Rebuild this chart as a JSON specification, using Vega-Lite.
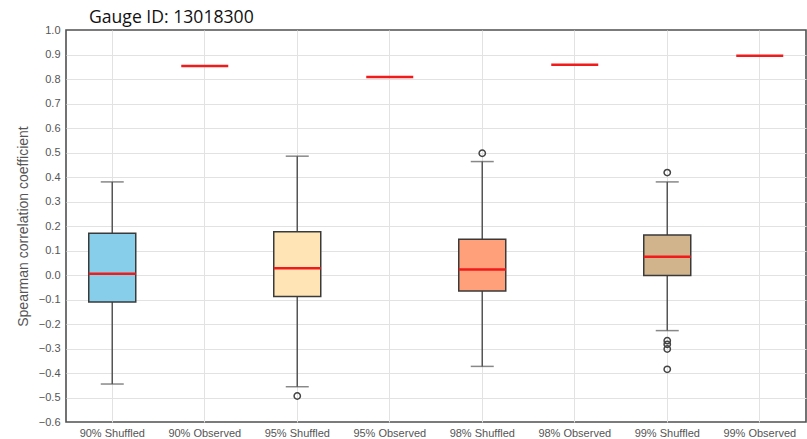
{
  "$schema": "https://vega.github.io/schema/vega-lite/v6.json",
  "autosize": {"type": "none"},
  "padding": {"left": 66, "top": 30, "right": 1, "bottom": 17},
  "width": 740,
  "height": 392,
  "background": "white",
  "title": {
    "text": "Gauge ID: 13018300",
    "anchor": "start",
    "frame": "group",
    "dx": 23,
    "dy": 17,
    "offset": 0,
    "baseline": "alphabetic",
    "font": "Open Sans",
    "fontSize": 17.6,
    "fontWeight": "normal",
    "color": "#111"
  },
  "config": {
    "view": {"stroke": "#505050", "strokeWidth": 1.6},
    "axis": {
      "labelFont": "Liberation Sans",
      "labelFontSize": 11,
      "labelColor": "#555",
      "titleFont": "Liberation Sans",
      "titleColor": "#555",
      "gridColor": "#e2e2e2",
      "gridWidth": 1,
      "domain": false,
      "ticks": false
    },
    "axisY": {
      "titleFontSize": 14,
      "titleFontWeight": "normal",
      "titlePadding": 8,
      "labelPadding": 6,
      "labelOverlap": false
    }
  },
  "datasets": {
    "stats": [
      {"cat": "90% Shuffled", "kind": "Shuffled", "min": -0.445, "q1": -0.11, "median": 0.005, "q3": 0.17, "max": 0.38},
      {"cat": "90% Observed", "kind": "Observed", "median": 0.853},
      {"cat": "95% Shuffled", "kind": "Shuffled", "min": -0.456, "q1": -0.088, "median": 0.028, "q3": 0.177, "max": 0.485},
      {"cat": "95% Observed", "kind": "Observed", "median": 0.808},
      {"cat": "98% Shuffled", "kind": "Shuffled", "min": -0.373, "q1": -0.065, "median": 0.022, "q3": 0.146, "max": 0.463},
      {"cat": "98% Observed", "kind": "Observed", "median": 0.858},
      {"cat": "99% Shuffled", "kind": "Shuffled", "min": -0.227, "q1": -0.002, "median": 0.074, "q3": 0.163, "max": 0.38},
      {"cat": "99% Observed", "kind": "Observed", "median": 0.895}
    ],
    "outliers": [
      {"cat": "95% Shuffled", "value": -0.494},
      {"cat": "98% Shuffled", "value": 0.497},
      {"cat": "99% Shuffled", "value": 0.418},
      {"cat": "99% Shuffled", "value": -0.268},
      {"cat": "99% Shuffled", "value": -0.283},
      {"cat": "99% Shuffled", "value": -0.302},
      {"cat": "99% Shuffled", "value": -0.385}
    ]
  },
  "data": {"name": "stats"},
  "encoding": {
    "x": {
      "field": "cat",
      "type": "nominal",
      "sort": null,
      "scale": {
        "domain": ["90% Shuffled", "90% Observed", "95% Shuffled", "95% Observed", "98% Shuffled", "98% Observed", "99% Shuffled", "99% Observed"],
        "paddingInner": 0,
        "paddingOuter": 0
      },
      "axis": {"title": null, "labelAngle": 0, "grid": true, "labelPadding": 5}
    }
  },
  "layer": [
    {
      "transform": [{"filter": "datum.kind === 'Shuffled'"}],
      "mark": {"type": "rule", "color": "#555", "strokeWidth": 1.5},
      "encoding": {
        "y": {
          "field": "min",
          "type": "quantitative",
          "title": "Spearman correlation coefficient",
          "scale": {"domain": [-0.6, 1.0], "nice": false, "zero": false},
          "axis": {
            "values": [-0.6, -0.5, -0.4, -0.3, -0.2, -0.1, 0.0, 0.1, 0.2, 0.3, 0.4, 0.5, 0.6, 0.7, 0.8, 0.9, 1.0],
            "format": ".1f",
            "gridOpacity": {"condition": {"test": "datum.value <= -0.59 || datum.value >= 0.99", "value": 0}, "value": 1}
          }
        },
        "y2": {"field": "max"}
      }
    },
    {
      "transform": [{"filter": "datum.kind === 'Shuffled'"}],
      "mark": {"type": "tick", "color": "#555", "size": 23, "thickness": 1.5},
      "encoding": {
        "y": {
          "field": "min",
          "type": "quantitative",
          "title": "Spearman correlation coefficient",
          "axis": {
            "values": [-0.6, -0.5, -0.4, -0.3, -0.2, -0.1, 0.0, 0.1, 0.2, 0.3, 0.4, 0.5, 0.6, 0.7, 0.8, 0.9, 1.0],
            "format": ".1f",
            "gridOpacity": {"condition": {"test": "datum.value <= -0.59 || datum.value >= 0.99", "value": 0}, "value": 1}
          }
        }
      }
    },
    {
      "transform": [{"filter": "datum.kind === 'Shuffled'"}],
      "mark": {"type": "tick", "color": "#555", "size": 23, "thickness": 1.5},
      "encoding": {
        "y": {
          "field": "max",
          "type": "quantitative",
          "title": "Spearman correlation coefficient",
          "axis": {
            "values": [-0.6, -0.5, -0.4, -0.3, -0.2, -0.1, 0.0, 0.1, 0.2, 0.3, 0.4, 0.5, 0.6, 0.7, 0.8, 0.9, 1.0],
            "format": ".1f",
            "gridOpacity": {"condition": {"test": "datum.value <= -0.59 || datum.value >= 0.99", "value": 0}, "value": 1}
          }
        }
      }
    },
    {
      "transform": [{"filter": "datum.kind === 'Shuffled'"}],
      "mark": {"type": "bar", "size": 47, "stroke": "#3a3a3a", "strokeWidth": 1.5, "opacity": 1},
      "encoding": {
        "y": {
          "field": "q1",
          "type": "quantitative",
          "title": "Spearman correlation coefficient",
          "axis": {
            "values": [-0.6, -0.5, -0.4, -0.3, -0.2, -0.1, 0.0, 0.1, 0.2, 0.3, 0.4, 0.5, 0.6, 0.7, 0.8, 0.9, 1.0],
            "format": ".1f",
            "gridOpacity": {"condition": {"test": "datum.value <= -0.59 || datum.value >= 0.99", "value": 0}, "value": 1}
          }
        },
        "y2": {"field": "q3"},
        "fill": {
          "field": "cat",
          "type": "nominal",
          "scale": {
            "domain": ["90% Shuffled", "95% Shuffled", "98% Shuffled", "99% Shuffled"],
            "range": ["#87CEEB", "#FFE4B5", "#FFA07A", "#D2B48C"]
          },
          "legend": null
        }
      }
    },
    {
      "mark": {"type": "tick", "color": "#f21b1b", "size": 47, "thickness": 2.5, "opacity": 1},
      "encoding": {
        "y": {
          "field": "median",
          "type": "quantitative",
          "title": "Spearman correlation coefficient",
          "axis": {
            "values": [-0.6, -0.5, -0.4, -0.3, -0.2, -0.1, 0.0, 0.1, 0.2, 0.3, 0.4, 0.5, 0.6, 0.7, 0.8, 0.9, 1.0],
            "format": ".1f",
            "gridOpacity": {"condition": {"test": "datum.value <= -0.59 || datum.value >= 0.99", "value": 0}, "value": 1}
          }
        }
      }
    },
    {
      "data": {"name": "outliers"},
      "mark": {"type": "point", "shape": "circle", "filled": false, "stroke": "#444", "strokeWidth": 1.5, "size": 40, "opacity": 1},
      "encoding": {
        "x": {"field": "cat", "type": "nominal", "sort": null},
        "y": {
          "field": "value",
          "type": "quantitative",
          "title": "Spearman correlation coefficient",
          "axis": {
            "values": [-0.6, -0.5, -0.4, -0.3, -0.2, -0.1, 0.0, 0.1, 0.2, 0.3, 0.4, 0.5, 0.6, 0.7, 0.8, 0.9, 1.0],
            "format": ".1f",
            "gridOpacity": {"condition": {"test": "datum.value <= -0.59 || datum.value >= 0.99", "value": 0}, "value": 1}
          }
        }
      }
    }
  ]
}
